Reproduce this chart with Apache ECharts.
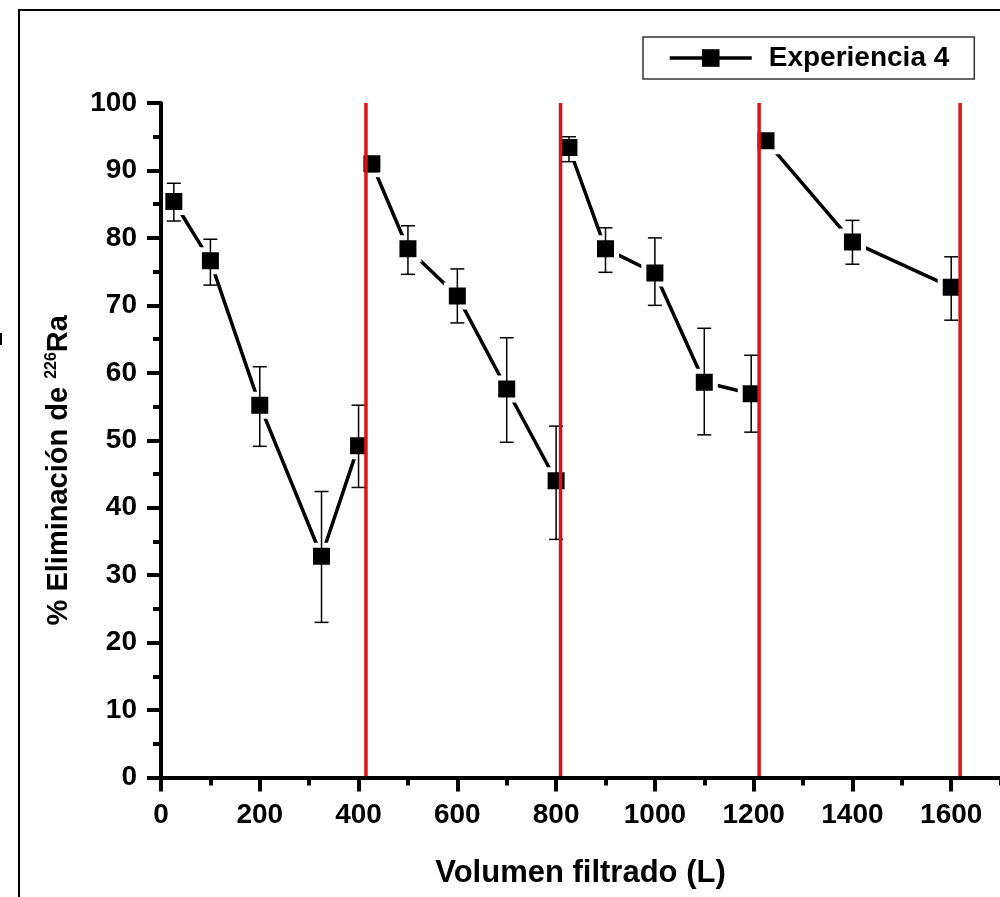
<!DOCTYPE html>
<html>
<head>
<meta charset="utf-8">
<script src="https://cdn.jsdelivr.net/npm/echarts@6/dist/echarts.min.js"></script>
<style>
  html, body { margin: 0; padding: 0; background: #fff; }
  #chart { width: 1000px; height: 897px; }
</style>
</head>
<body>
<div id="chart"></div>
<script>
// Volumen filtrado (L) de cada medida
const volumen = [26, 100, 200, 325, 400, 427, 500, 600, 700, 800, 826, 900, 1000, 1100, 1195, 1225, 1400, 1600];
// % eliminación de 226Ra
const eliminacion = [85.4, 76.6, 55.2, 32.8, 49.2, 91.0, 78.4, 71.4, 57.6, 44.0, 93.4, 78.4, 74.8, 58.6, 56.9, 94.4, 79.4, 72.7];
// extremos de las barras de error
const errSup = [88.1, 79.8, 60.9, 42.4, 55.2, 92.0, 81.8, 75.4, 65.2, 52.1, 95.0, 81.5, 80.0, 66.6, 62.6, 95.0, 82.6, 77.2];
const errInf = [82.5, 73.0, 49.1, 23.0, 43.0, 89.8, 74.6, 67.4, 49.7, 35.3, 91.3, 74.9, 70.0, 50.8, 51.2, 93.6, 76.1, 67.8];
// índices donde empieza un nuevo tramo (regeneración del filtro)
const tramos = [5, 10, 15];
// posiciones de las líneas rojas verticales
const lineasRojas = [415, 809, 1211, 1618];
const xTicks = { min: 0, max: 1800, interval: 200 };
const yTicks = { min: 0, max: 100, interval: 10 };

const font = "'Liberation Sans', Arial, sans-serif";

const lineData = [];
volumen.forEach((v, i) => {
  if (tramos.includes(i)) lineData.push(['-', '-']);
  lineData.push([v, eliminacion[i]]);
});

const errorData = volumen.map((v, i) => [v, errInf[i], errSup[i]]);

const redSeries = lineasRojas.map((x) => ({
  type: "line",
  data: [[x, 0], [x, 100]],
  symbol: "none",
  silent: true,
  z: 6,
  lineStyle: { color: "#dd1414", width: 3.5 },
}));

const chart = echarts.init(document.getElementById("chart"));

const option = {
  animation: false,
  backgroundColor: "#fff",
  textStyle: { fontFamily: font },
  grid: {
    left: 161, right: -50, top: 103, bottom: 119.5,
    containLabel: false, outerBoundsMode: "none",
  },
  legend: {
    data: ["Experiencia 4"],
    left: 643,
    top: 37,
    padding: [7, 25, 7, 25],
    borderColor: "#333",
    borderWidth: 1.5,
    itemWidth: 82,
    itemHeight: 22,
    itemStyle: { borderWidth: 0 },
    lineStyle: { width: 3.5, color: "#000" },
    textStyle: {
      fontFamily: font,
      fontSize: 28,
      fontWeight: "bold",
      color: "#000",
      padding: [0, 0, 0, 12],
    },
  },
  graphic: [
    {
      type: "rect",
      shape: { x: 19, y: 10, width: 1000, height: 1000 },
      style: { fill: "none", stroke: "#000", lineWidth: 2 },
      silent: true,
    },
    {
      type: "line",
      shape: { x1: 1, y1: 333, x2: 1, y2: 345 },
      style: { stroke: "#000", lineWidth: 2 },
      silent: true,
    },
  ],
  xAxis: {
    type: "value",
    z: 10,
    min: xTicks.min,
    max: xTicks.max,
    interval: xTicks.interval,
    name: "Volumen filtrado (L)",
    nameLocation: "start",
    nameGap: 0,
    nameTextStyle: {
      fontFamily: font, fontSize: 31, fontWeight: "bold", color: "#000",
      align: "center", verticalAlign: "top", padding: [80, 0, 0, 839],
    },
    splitLine: { show: false },
    axisLine: { onZero: false, lineStyle: { color: "#000", width: 4 } },
    axisTick: { length: 14, lineStyle: { color: "#000", width: 4 } },
    minorTick: { show: true, splitNumber: 2, length: 8, lineStyle: { color: "#000", width: 4 } },
    axisLabel: {
      margin: 24,
      fontFamily: font,
      fontSize: 28,
      fontWeight: "bold",
      color: "#000",
      formatter: (v) => String(v),
    },
  },
  yAxis: {
    type: "value",
    z: 10,
    min: yTicks.min,
    max: yTicks.max,
    interval: yTicks.interval,
    name: "{b|% Eliminación de }{s|226}{b|Ra}",
    nameLocation: "middle",
    nameGap: 88,
    nameTextStyle: {
      fontFamily: font,
      color: "#000",
      padding: [0, 60, 0, 0],
      rich: {
        b: { fontFamily: font, fontSize: 29, fontWeight: "bold", color: "#000" },
        s: { fontFamily: font, fontSize: 16, fontWeight: "bold", color: "#000", verticalAlign: "top" },
      },
    },
    splitLine: { show: false },
    axisLine: { lineStyle: { color: "#000", width: 4 } },
    axisTick: { length: 14, lineStyle: { color: "#000", width: 4 } },
    minorTick: { show: true, splitNumber: 2, length: 8, lineStyle: { color: "#000", width: 4 } },
    axisLabel: { margin: 24, fontFamily: font, fontSize: 28, fontWeight: "bold", color: "#000" },
  },
  series: [
    {
      name: "Experiencia 4",
      type: "line",
      data: lineData,
      connectNulls: false,
      symbol: "rect",
      symbolSize: 22,
      z: 3,
      lineStyle: { color: "#000", width: 3.5 },
      itemStyle: { color: "#000", borderColor: "#fff", borderWidth: 5 },
    },
    {
      type: "custom",
      data: errorData,
      z: 4,
      silent: true,
      encode: { x: 0, y: [1, 2] },
      renderItem: (params, api) => {
        const x = api.value(0);
        const lo = api.coord([x, api.value(1)]);
        const hi = api.coord([x, api.value(2)]);
        const w = 7;
        const st = { stroke: "#000", lineWidth: 1.5 };
        return {
          type: "group",
          children: [
            { type: "line", shape: { x1: hi[0], y1: hi[1], x2: lo[0], y2: lo[1] }, style: st },
            { type: "line", shape: { x1: hi[0] - w, y1: hi[1], x2: hi[0] + w, y2: hi[1] }, style: st },
            { type: "line", shape: { x1: lo[0] - w, y1: lo[1], x2: lo[0] + w, y2: lo[1] }, style: st },
          ],
        };
      },
    },
    ...redSeries,
  ],
};

chart.setOption(option);
</script>
</body>
</html>
